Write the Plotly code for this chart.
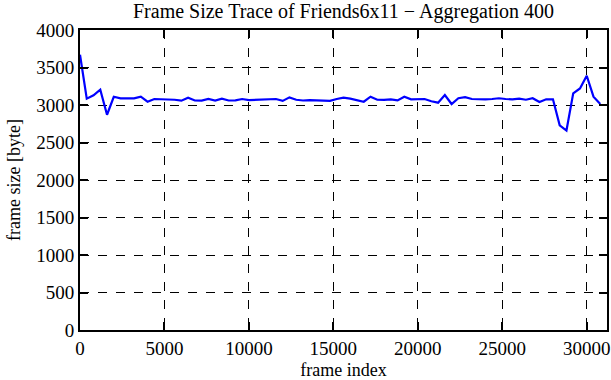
import plotly.graph_objects as go

aggregation = 400
frame_size = [
    3670, 3085, 3130, 3205, 2870, 3110, 3089, 3089, 3089, 3111,
    3044, 3080, 3080, 3075, 3070, 3058, 3098, 3060, 3058, 3080,
    3060, 3085, 3060, 3062, 3080, 3065, 3068, 3072, 3084, 3080,
    3055, 3102, 3070, 3060, 3065, 3065, 3062, 3055, 3080, 3098,
    3085, 3062, 3044, 3111, 3070, 3067, 3075, 3062, 3111, 3075,
    3075, 3080, 3050, 3031, 3133, 3013, 3090, 3105, 3080, 3075,
    3075, 3080, 3090, 3080, 3075, 3085, 3070, 3090, 3040, 3076,
    3076, 2730, 2660, 3155, 3220, 3390, 3111, 3013,
]
frame_index = [i * aggregation for i in range(len(frame_size))]

x_ticks = [0, 5000, 10000, 15000, 20000, 25000, 30000]
y_ticks = [0, 500, 1000, 1500, 2000, 2500, 3000, 3500, 4000]

font = "Liberation Serif, Times New Roman, serif"

fig = go.Figure()
fig.add_trace(go.Scatter(
    x=frame_index, y=frame_size, mode="lines",
    line=dict(color="#0000ff", width=2.2),
    showlegend=False,
))

axis_common = dict(
    showline=True, linecolor="black", linewidth=2, mirror="ticks",
    ticks="inside", ticklen=8, tickwidth=1.5, tickcolor="black",
    showgrid=True, gridcolor="black", gridwidth=1, griddash="dash",
    zeroline=False,
    tickfont=dict(family=font, size=19, color="black"),
)

fig.update_layout(
    width=611, height=380,
    margin=dict(l=80, r=2, t=30, b=50),
    paper_bgcolor="white", plot_bgcolor="white",
    font=dict(family=font, color="black"),
    title=dict(
        text="Frame Size Trace of Friends6x11 \u2212 Aggregation 400",
        x=0.5, xref="paper", xanchor="center",
        y=1 - 11 / 380, yref="container", yanchor="middle",
        font=dict(family=font, size=20, color="black"),
    ),
    xaxis=dict(
        range=[0, 31200], tickvals=x_ticks,
        ticktext=[str(v) for v in x_ticks],
        title=dict(text="frame index", font=dict(family=font, size=18), standoff=6),
        **axis_common,
    ),
    yaxis=dict(
        range=[0, 4000], tickvals=y_ticks,
        ticktext=[str(v) for v in y_ticks],
        title=dict(text="frame size [byte]", font=dict(family=font, size=18), standoff=11),
        **axis_common,
    ),
)

fig.write_html("out.html")
